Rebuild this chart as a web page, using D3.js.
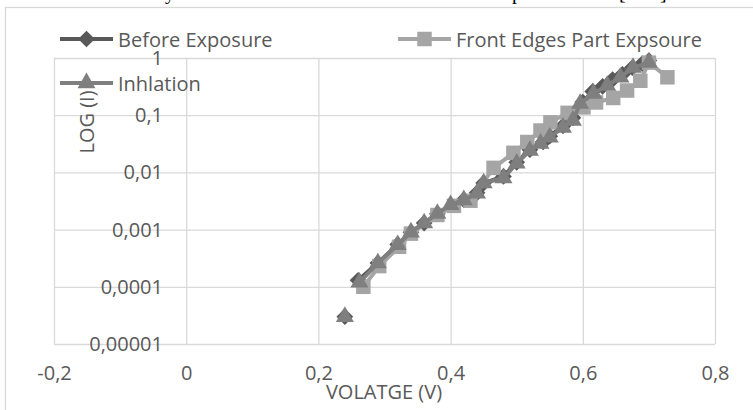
<!DOCTYPE html>
<html>
<head>
  <script src="https://d3js.org/d3.v7.min.js"></script>
  <style>
    body { margin: 0; background: #fff; }
    .gridlines line { stroke: #d9d9d9; stroke-width: 1.3; }
    .gridlines .domain { stroke: none; }
    .ticks .domain { stroke: none; }
    .ticks text { fill: #595959; font-family: "Open Sans"; font-size: 20px; }
  </style>
</head>
<body>
  <svg id="chart" width="753" height="410"></svg>
  <script>
    // tick labels (comma decimal, as in the picture)
    const xTicks = [-0.2, 0, 0.2, 0.4, 0.6, 0.8];
    const xTickLabels = ['-0,2', '0', '0,2', '0,4', '0,6', '0,8'];
    const yTicks = [0.00001, 0.0001, 0.001, 0.01, 0.1, 1];
    const yTickLabels = ['0,00001', '0,0001', '0,001', '0,01', '0,1', '1'];

    // null = break in the line (first point stands alone)
    const beforeV = [0.24, null, 0.26, 0.29, 0.32, 0.34, 0.36, 0.38, 0.42, 0.44, 0.45, 0.48, 0.50, 0.52, 0.54, 0.55, 0.57, 0.585, 0.60, 0.615, 0.63, 0.645, 0.66, 0.675, 0.69, 0.70];
    const beforeI = [3e-5, null, 1.3e-4, 2.6e-4, 5.5e-4, 9e-4, 1.3e-3, 1.9e-3, 3.3e-3, 4.4e-3, 6.5e-3, 8.5e-3, 0.015, 0.025, 0.034, 0.043, 0.065, 0.09, 0.17, 0.26, 0.32, 0.42, 0.52, 0.68, 0.8, 0.9];

    const frontV = [0.268, 0.292, 0.322, 0.34, 0.38, 0.405, 0.43, 0.465, 0.495, 0.516, 0.536, 0.551, 0.577, 0.601, 0.62, 0.646, 0.667, 0.687, 0.70, 0.728];
    const frontI = [1.0e-4, 2.3e-4, 5e-4, 8.5e-4, 1.8e-3, 2.6e-3, 3.2e-3, 0.012, 0.022, 0.034, 0.054, 0.075, 0.11, 0.137, 0.167, 0.2, 0.27, 0.4, 0.83, 0.46];

    const inhV = [0.24, null, 0.262, 0.29, 0.32, 0.34, 0.36, 0.38, 0.40, 0.42, 0.44, 0.45, 0.48, 0.50, 0.52, 0.536, 0.55, 0.57, 0.585, 0.596, 0.616, 0.637, 0.657, 0.676, 0.70];
    const inhI = [3e-5, null, 1.2e-4, 2.6e-4, 5.4e-4, 9e-4, 1.3e-3, 1.9e-3, 2.7e-3, 3.3e-3, 4.3e-3, 6.5e-3, 8e-3, 0.0144, 0.024, 0.032, 0.041, 0.061, 0.081, 0.16, 0.24, 0.33, 0.46, 0.68, 0.83];

    const series = [
      { name: 'Before Exposure', v: beforeV, i: beforeI, color: '#595959', shape: 'diamond' },
      { name: 'Front Edges Part Expsoure', v: frontV, i: frontI, color: '#a5a5a5', shape: 'square' },
      { name: 'Inhlation', v: inhV, i: inhI, color: '#7f7f7f', shape: 'triangle' }
    ];

    const svg = d3.select('svg#chart');
    const font = '"Open Sans"';
    const textColor = '#595959';

    // cut-off text of the page above the chart
    const above = svg.append('g').style('font-family', 'Liberation Serif').style('font-size', '20px').style('fill', '#000');
    [['y', 165], ['p', 512], ['[', 619], [']', 660]].forEach(([t, x]) => {
      above.append('text').attr('x', x).attr('y', -1).text(t);
    });

    // chart border
    svg.append('rect')
      .attr('x', 5.5).attr('y', 7.5).attr('width', 760).attr('height', 420)
      .attr('fill', 'none').attr('stroke', '#d9d9d9').attr('stroke-width', 1.3);

    const plot = { left: 54, right: 715, top: 58, bottom: 344 };

    const xScale = d3.scaleLinear().domain([-0.2, 0.8]).range([plot.left, plot.right]);
    const yScale = d3.scaleLog().domain([1e-5, 1]).range([plot.bottom, plot.top]);

    // gridlines
    svg.append('g')
      .attr('class', 'gridlines')
      .attr('transform', `translate(0,${plot.bottom})`)
      .call(d3.axisBottom(xScale).tickValues(xTicks).tickSize(-(plot.bottom - plot.top)).tickFormat(''));

    svg.append('g')
      .attr('class', 'gridlines')
      .attr('transform', `translate(${plot.left},0)`)
      .call(d3.axisLeft(yScale).tickValues(yTicks).tickSize(-(plot.right - plot.left)).tickFormat(''));

    // tick labels
    svg.append('g')
      .attr('class', 'ticks')
      .attr('transform', `translate(0,${plot.bottom + 19})`)
      .call(d3.axisBottom(xScale).tickValues(xTicks).tickSize(0)
        .tickFormat((d, k) => xTickLabels[k]))
      .selectAll('line').remove();

    svg.append('g')
      .attr('class', 'ticks')
      .attr('transform', `translate(${plot.left + 109},0)`)
      .call(d3.axisLeft(yScale).tickValues(yTicks).tickSize(0).tickPadding(0)
        .tickFormat((d, k) => yTickLabels[k]))
      .selectAll('line').remove();

    // symbols
    function symbolPath(shape) {
      if (shape === 'diamond') return d3.symbol(d3.symbolSquare, 140)();
      if (shape === 'square') return d3.symbol(d3.symbolSquare, 210)();
      return d3.symbol(d3.symbolTriangle, 140)();
    }

    const line = d3.line()
      .defined(d => d[0] !== null)
      .x(d => xScale(d[0]))
      .y(d => yScale(d[1]));

    series.forEach(s => {
      const pts = s.v.map((v, k) => [v, s.i[k]]);
      const g = svg.append('g');
      g.append('path')
        .datum(pts)
        .attr('fill', 'none')
        .attr('stroke', s.color)
        .attr('stroke-width', 4)
        .attr('stroke-linejoin', 'round')
        .attr('d', line);
      g.selectAll('path.mark')
        .data(pts.filter(d => d[0] !== null))
        .join('path')
        .attr('class', 'mark')
        .attr('d', symbolPath(s.shape))
        .attr('transform', d => `translate(${xScale(d[0])},${yScale(d[1])})` + (s.shape === 'diamond' ? ' rotate(45)' : ''))
        .attr('fill', s.color);
    });

    // legend
    const legendPos = [[60, 39], [398, 39], [60, 83]];
    series.forEach((s, k) => {
      const [lx, ly] = legendPos[k];
      const g = svg.append('g').attr('transform', `translate(${lx},${ly})`);
      g.append('line').attr('x1', 0).attr('x2', 53).attr('y1', 0).attr('y2', 0)
        .attr('stroke', s.color).attr('stroke-width', 4);
      g.append('path')
        .attr('d', symbolPath(s.shape))
        .attr('transform', 'translate(26.5,0)' + (s.shape === 'diamond' ? ' rotate(45)' : ''))
        .attr('fill', s.color);
      g.append('text')
        .attr('x', 58).attr('y', 0)
        .attr('dominant-baseline', 'central')
        .style('font-family', font).style('font-size', '20px').style('fill', textColor)
        .text(s.name);
    });

    // axis titles
    svg.append('text')
      .attr('transform', 'translate(86,122) rotate(-90)')
      .attr('text-anchor', 'middle')
      .attr('dominant-baseline', 'central')
      .style('font-family', font).style('font-size', '20px').style('fill', textColor)
      .text('LOG (I)');

    svg.append('text')
      .attr('x', 384).attr('y', 391)
      .attr('text-anchor', 'middle')
      .attr('dominant-baseline', 'central')
      .style('font-family', font).style('font-size', '20px').style('fill', textColor)
      .text('VOLATGE (V)');
  </script>
</body>
</html>
